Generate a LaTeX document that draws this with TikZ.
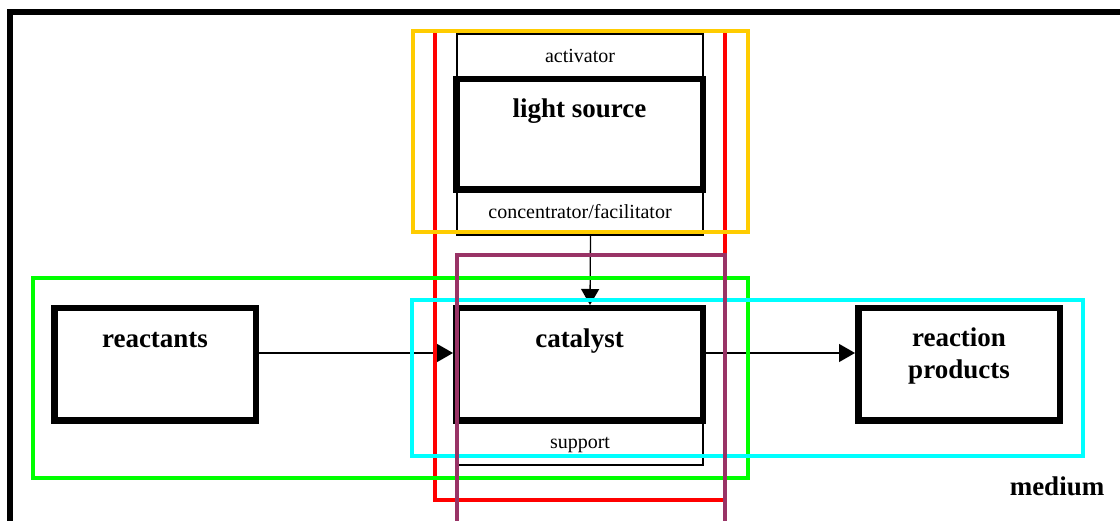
\documentclass[tikz,border=0pt]{standalone}
\usepackage{fontspec}
\setmainfont{Liberation Serif}
\usetikzlibrary{arrows.meta}
\definecolor{cyel}{HTML}{FFCC00}
\definecolor{cred}{HTML}{FF0000}
\definecolor{cgreen}{HTML}{00FF00}
\definecolor{ccyan}{HTML}{00FFFF}
\definecolor{cpurple}{HTML}{993366}
\tikzset{
  bigbox/.style={draw, line width=6.5pt, minimum height=112.5pt, inner sep=0pt, fill=white},
  thinbox/.style={draw, line width=1.2pt, inner sep=0pt},
  frame/.style={line width=3.2pt},
  boldlab/.style={font=\fontsize{27}{31}\selectfont\bfseries, anchor=base, inner sep=0pt, align=center},
  smalllab/.style={font=\fontsize{20}{24}\selectfont, anchor=base, inner sep=0pt},
  arr/.style={line width=1.3pt, -{Triangle[length=16pt,width=18pt]}}
}
\begin{document}
\begin{tikzpicture}[x=1pt,y=-1pt]
\useasboundingbox (0,0) rectangle (1120,521);
\clip (0,0) rectangle (1120,521);
\fill[white] (0,0) rectangle (1120,521);
% medium frame
\draw[line width=6pt] (10,540) -- (10,12) -- (1140,12);
% thin boxes
\node[thinbox, minimum width=246pt, minimum height=201pt] (act) at (580,134.5) {};
\node[thinbox, minimum width=246pt, minimum height=44pt] (sup) at (580,443) {};
% thick boxes
\node[bigbox, minimum width=246.5pt, minimum height=110.5pt] (light) at (579.5,134.5) {};
\node[bigbox, minimum width=246.5pt] (cat) at (579.5,364.5) {};
\node[bigbox, minimum width=201.5pt] (react) at (155,364.5) {};
\node[bigbox, minimum width=201.5pt] (prod) at (959,364.5) {};
% labels
\node[smalllab] (lact) at (580,62.5) {activator};
\node[boldlab] (llight) at (579.5,118) {light source};
\node[smalllab] (lconc) at (580,219) {concentrator/facilitator};
\node[boldlab] (lcat) at (579.5,348) {catalyst};
\node[smalllab] (lsup) at (580,448.5) {support};
\node[boldlab] (lreact) at (155,348) {reactants};
\node[boldlab] (lprod1) at (959,347) {reaction};
\node[boldlab] (lprod2) at (959,378.5) {products};
\node[boldlab] (lmed) at (1057,495) {medium};
% connectors
\draw[arr] ([yshift=11.5pt]react.east) -- ([yshift=11.5pt]cat.west);
\draw[arr] ([yshift=11.5pt]cat.east) -- ([yshift=11.5pt]prod.west);
\draw[arr] ([xshift=10.5pt]act.south) -- ([xshift=10.5pt]cat.north);
% coloured frames
\draw[cred, frame] (435,31) rectangle (725,500);
\draw[cyel, frame] (413,31) rectangle (748,232);
\draw[cgreen, frame] (33,278) rectangle (748,478);
\draw[ccyan, frame] (412,300) rectangle (1083,456);
\draw[cpurple, frame] (457,255) rectangle (725,540);
\end{tikzpicture}
\end{document}
